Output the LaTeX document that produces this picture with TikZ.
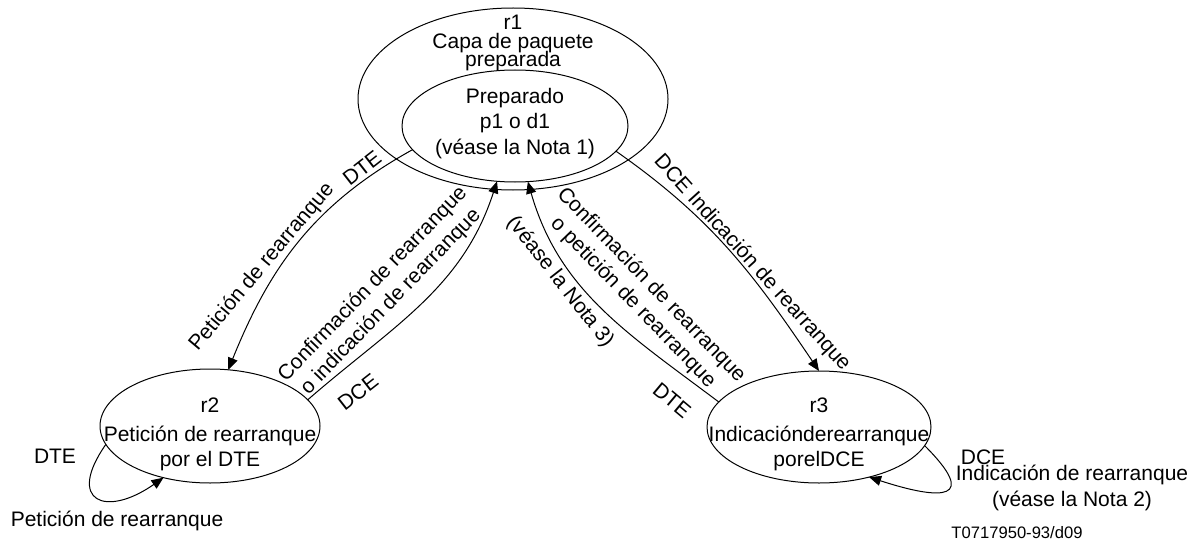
\documentclass[tikz,border=0pt]{standalone}
\usepackage{fontspec}
\setmainfont{Liberation Sans}
\usetikzlibrary{shapes.geometric}
\usetikzlibrary{arrows.meta}
\tikzset{
  estado/.style={draw, ellipse, outer sep=0pt, inner sep=0pt},
  txt/.style={align=center, inner sep=0pt, font=\fontsize{10.5}{12.6}\selectfont},
  trans/.style={-{Triangle[length=6pt,width=5pt]}}
}

\begin{document}
\begin{tikzpicture}[x=0.5pt,y=-0.5pt,line width=0.5pt]
        \useasboundingbox (0,0) rectangle (1203,551);
        \node[estado, minimum width=155pt, minimum height=91pt] (r1) at (513,99) {};
        \node[estado, minimum width=113pt, minimum height=56pt] (p1) at (515,126) {};
        \node[estado, minimum width=110pt, minimum height=57pt] (r2) at (210,426) {};
        \node[estado, minimum width=112pt, minimum height=56pt] (r3) at (819,427) {};

        \node[txt, anchor=north] (r1txt) at (513,15) {r1\\[-3.4pt]Capa de paquete\\[-3.4pt]preparada};
        \node[txt, anchor=north] (p1txt) at (515,88) {Preparado\\p1 o d1\\(véase la Nota 1)};
        \node[txt, anchor=north] (r2txt) at (210,397) {r2\\[2pt]Petición de rearranque\\por el DTE};
        \node[txt, anchor=north] (r3txt) at (819,397) {r3\\[2pt]Indicaciónderearranque\\porelDCE};

        \draw[trans] (p1.193) to[out=209,in=68] (r2.72);
        \draw[trans] (r2.15) to[out=41,in=252] (p1.252);
        \draw[trans] (r3.166) to[out=143,in=286] (p1.283);
        \draw[trans] (p1.346) to[out=-35,in=124] (r3.90);
        \draw[trans] (r2.190) to[out=235,in=215,looseness=2.7] (r2.228);
        \draw[trans] (r3.-10) to[out=-45,in=-18,looseness=3.1] (r3.-45);

        \node[txt, rotate=38] (e1a) at (362,168) {DTE};
        \node[txt, rotate=50] (e1b) at (262,267) {Petición de rearranque};
        \node[txt, rotate=46] (e2a) at (382,293) {Confirmación de rearranque\\o indicación de rearranque};
        \node[txt, rotate=38] (e2b) at (358,392) {DCE};
        \node[txt, rotate=-46] (e3a) at (642,294) {Confirmación de rearranque\\o petición de rearranque};
        \node[txt, rotate=-52] (e3b) at (560,282) {(véase la Nota 3)};
        \node[txt, rotate=-40] (e3c) at (672,400) {DTE};
        \node[txt, rotate=-48] (e4a) at (752,263) {DCE Indicación de rearranque};
        \node[txt] (l2a) at (55,456) {DTE};
        \node[txt] (l2b) at (117,521) {Petición de rearranque};
        \node[txt] (l3a) at (983,457) {DCE};
        \node[txt] (l3b) at (1072,488) {Indicación de rearranque\\(véase la Nota 2)};
        \node[txt, font=\fontsize{8.3}{10}\selectfont] (ref) at (1017,533) {T0717950-93/d09};
\end{tikzpicture}
\end{document}
